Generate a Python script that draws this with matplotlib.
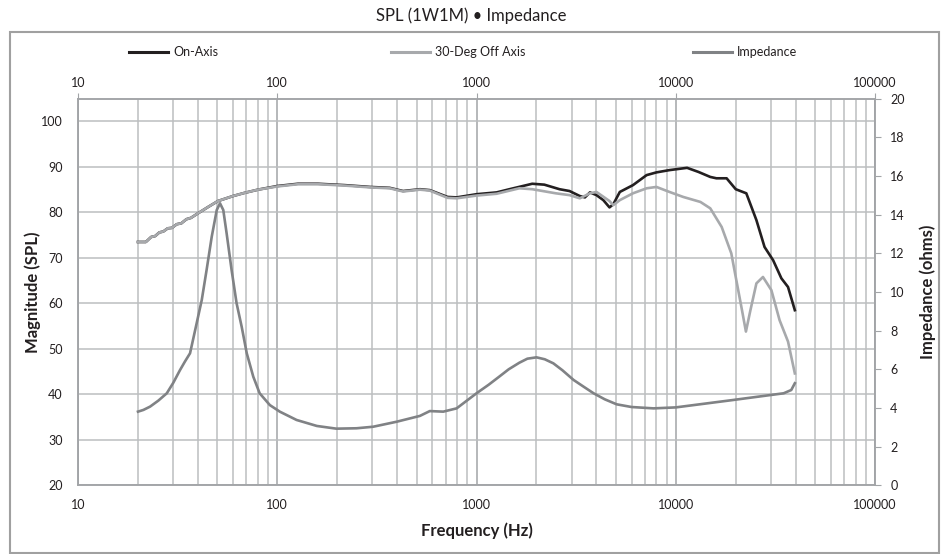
import matplotlib
matplotlib.use('Agg')
import matplotlib.pyplot as plt
from matplotlib.lines import Line2D
from matplotlib.patches import Rectangle
from matplotlib.ticker import FixedLocator, FixedFormatter, NullFormatter

plt.rcParams['font.family'] = ['Lato', 'DejaVu Sans']

# On-Axis SPL (dB)
on_freq = [20, 21.9, 23.3, 24.4, 25.6, 26.8, 28.2, 29.6, 31.3, 33.0, 35.0, 36.9, 40, 45,
           50.4, 60, 68.6, 80, 100, 127, 160, 218, 292, 367, 428, 520, 583, 716, 795,
           1000, 1262, 1464, 1905, 2190, 2610, 2930, 3300, 3500, 3710, 4000, 4330, 4650,
           4860, 5240, 6100, 7140, 8000, 9300, 11400, 13000, 14900, 16000, 18000, 20000,
           22600, 25400, 27900, 30800, 33900, 36600, 39600]
on_spl = [73.5, 73.5, 74.6, 74.8, 75.6, 75.8, 76.5, 76.6, 77.4, 77.6, 78.5, 78.8, 79.8, 81.2,
          82.5, 83.6, 84.3, 85.0, 85.8, 86.3, 86.3, 86.0, 85.6, 85.4, 84.7, 85.1, 84.9, 83.4, 83.3,
          84.0, 84.4, 85.1, 86.3, 86.1, 85.1, 84.7, 83.6, 83.3, 84.4, 83.8, 82.7, 81.1,
          81.8, 84.5, 86.0, 88.2, 88.8, 89.3, 89.8, 88.9, 87.8, 87.5, 87.5, 85.1,
          84.2, 78.3, 72.4, 69.5, 65.5, 63.6, 58.5]

# 30-Deg Off Axis SPL (dB)
off_freq = [20, 21.9, 23.3, 24.4, 25.6, 26.8, 28.2, 29.6, 31.3, 33.0, 35.0, 36.9, 40, 45,
            50.4, 60, 68.6, 80, 100, 127, 160, 218, 292, 367, 428, 520, 583, 716, 795,
            1000, 1262, 1640, 1905, 2500, 2930, 3300, 3710, 4000, 4650, 4860, 5240, 6100,
            7140, 8000, 9300, 10900, 13300, 14900, 17000, 19000, 20000, 21500, 22500, 23700,
            25400, 27400, 30200, 33200, 36600, 39600]
off_spl = [73.5, 73.5, 74.6, 74.8, 75.6, 75.8, 76.5, 76.6, 77.4, 77.6, 78.5, 78.8, 79.8, 81.2,
           82.5, 83.6, 84.3, 85.0, 85.7, 86.2, 86.2, 85.9, 85.5, 85.3, 84.6, 85.0, 84.8, 83.2, 83.1,
           83.7, 84.1, 85.3, 85.1, 84.2, 83.8, 83.1, 84.2, 84.5, 82.5, 81.6, 82.7, 84.2,
           85.3, 85.6, 84.5, 83.4, 82.3, 80.9, 76.8, 71.0, 65.8, 58.5, 53.8, 58.5,
           64.4, 65.8, 62.9, 56.3, 51.6, 44.6]

# Impedance (ohms)
imp_freq = [20, 21.3, 23, 25.3, 27.9, 30.1, 32.5, 34.4, 36.5, 39.4, 41.8, 44.2, 46.9, 49.7,
            51.6, 53.6, 55.7, 59.0, 62.5, 66.3, 70.3, 75.8, 81.6, 91.8, 103, 125, 158, 198,
            250, 303, 398, 520, 583, 681, 795, 1000, 1150, 1300, 1450, 1640, 1800, 2000,
            2200, 2430, 2700, 3070, 3450, 3870, 4400, 5050, 6000, 7740, 10000, 19300,
            34800, 38000, 39600]
imp_ohm = [3.81, 3.9, 4.07, 4.38, 4.76, 5.31, 5.96, 6.4, 6.83, 8.38, 9.59, 11.14, 12.86, 14.24,
           14.59, 14.24, 13.04, 11.14, 9.42, 8.2, 6.83, 5.62, 4.76, 4.15, 3.81, 3.38, 3.07, 2.93,
           2.95, 3.03, 3.29, 3.59, 3.84, 3.81, 3.98, 4.76, 5.2, 5.62, 6.0, 6.34, 6.55, 6.62,
           6.52, 6.31, 5.95, 5.45, 5.1, 4.76, 4.45, 4.19, 4.05, 3.98, 4.03, 4.41,
           4.76, 4.93, 5.28]

freq_ticks = [10, 100, 1000, 10000, 100000]
freq_labels = ['10', '100', '1000', '10000', '100000']
spl_ticks = [20, 30, 40, 50, 60, 70, 80, 90, 100]
imp_ticks = [0, 2, 4, 6, 8, 10, 12, 14, 16, 18, 20]

c_on = '#231f20'
c_off = '#a7a9ac'
c_imp = '#808285'
c_grid = '#bcbec0'
c_major = '#a2a4a7'
lw = 1.9

fig = plt.figure(figsize=(9.42, 5.54), dpi=100)
fig.patches.append(Rectangle((10 / 942, 1.5 / 554), 929 / 942, 521 / 554, transform=fig.transFigure,
                             fill=False, edgecolor='#a0a0a0', linewidth=1.5))
fig.text(0.5, 1 - 16 / 554, 'SPL (1W1M) \u2022 Impedance', ha='center', va='center',
         fontsize=12, color='#231f20')

ax = fig.add_axes([78 / 942, 1 - 485.3 / 554, 797 / 942, 386.6 / 554])
ax.set_xscale('log')
ax.set_xlim(10, 100000)
ax.set_ylim(20, 105)

ax.plot(on_freq, on_spl, color=c_on, lw=lw, label='On-Axis', zorder=3)
ax.plot(off_freq, off_spl, color=c_off, lw=lw, label='30-Deg Off Axis', zorder=4)

ax.xaxis.set_major_locator(FixedLocator(freq_ticks))
ax.xaxis.set_major_formatter(FixedFormatter(freq_labels))
ax.xaxis.set_minor_formatter(NullFormatter())
ax.set_yticks(spl_ticks)
ax.grid(which='major', axis='x', color=c_major, lw=1.1)
ax.grid(which='minor', axis='x', color=c_grid, lw=1.1)
ax.grid(which='major', axis='y', color=c_grid, lw=1.1)
ax.set_axisbelow(True)
ax.tick_params(axis='x', which='major', top=True, labeltop=True, bottom=False, labelbottom=True,
               length=4, color=c_major, labelsize=9, labelcolor='#231f20', pad=3)
ax.tick_params(axis='x', which='minor', length=0)
ax.tick_params(axis='y', length=0, labelsize=9, labelcolor='#231f20', pad=11)
for s in ax.spines.values():
    s.set_color(c_major)
    s.set_linewidth(1.1)

ax2 = ax.twinx()
ax2.plot(imp_freq, imp_ohm, color=c_imp, lw=lw, label='Impedance', zorder=5)
ax2.set_ylim(0, 20)
ax2.set_yticks(imp_ticks)
ax2.tick_params(axis='y', length=4, color=c_major, labelsize=9, labelcolor='#231f20', pad=7)
for s in ax2.spines.values():
    s.set_color(c_major)
    s.set_linewidth(1.1)

# bottom labels sit further away than the top ones
for t in ax.xaxis.get_major_ticks():
    t.label1.set_y(-0.009)

ax.set_xlabel('Frequency (Hz)', fontsize=12, fontweight='bold', color='#231f20')
ax.xaxis.set_label_coords(0.5, -0.095)
ax.set_ylabel('Magnitude (SPL)', fontsize=12, fontweight='bold', color='#231f20')
ax.yaxis.set_label_coords(-0.0464, 0.5)
ax2.set_ylabel('Impedance (ohms)', fontsize=12, fontweight='bold', color='#231f20')
ax2.yaxis.set_label_coords(1.056, 0.5)

# legend entries spread across the top
handles = [Line2D([], [], color=c_on, lw=2.2), Line2D([], [], color=c_off, lw=2.2),
           Line2D([], [], color=c_imp, lw=2.2)]
labels = ['On-Axis', '30-Deg Off Axis', 'Impedance']
xpos = [129, 391, 693]
for h, l, x in zip(handles, labels, xpos):
    fig.legend([h], [l], loc='center left', bbox_to_anchor=(x / 942, 1 - 52 / 554),
               frameon=False, fontsize=9, handlelength=3.1, handletextpad=0.45,
               borderpad=0, borderaxespad=0, labelcolor='#231f20')

fig.savefig('out.png', dpi=100)
